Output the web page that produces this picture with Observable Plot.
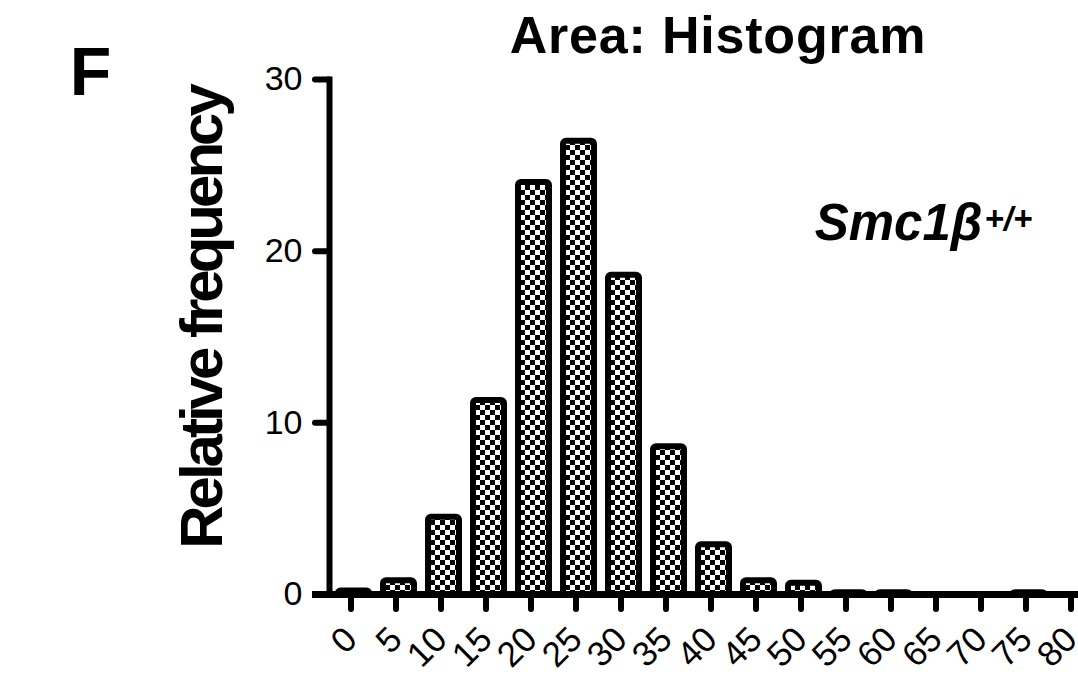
<!DOCTYPE html>
<html><head><meta charset="utf-8">
<script src="https://cdn.jsdelivr.net/npm/d3@7"></script>
<script src="https://cdn.jsdelivr.net/npm/@observablehq/plot@0.6"></script>
<style>body{margin:0;background:#fff;} svg{display:block;}</style>
</head><body><div id="chart"></div>
<script>
const bins = ["0","5","10","15","20","25","30","35","40","45","50","55","60","65","70","75","80"];
const freqs = [0.2, 0.8, 4.5, 11.3, 24.0, 26.4, 18.6, 8.6, 2.9, 0.8, 0.65, 0.1, 0.1, 0, 0, 0.1, 0];
const yTicks = [0, 10, 20, 30];
const title = "Area: Histogram";
const panelLetter = "F";
const yLabel = "Relative frequency";
const genotype = "Smc1β";
const genotypeSup = "+/+";

const data = bins.map((b, i) => ({bin: b, value: freqs[i]}));
const font = "'Liberation Sans', Arial, Helvetica, sans-serif";

const chart = Plot.plot({
  width: 1078, height: 678,
  marginTop: 79, marginBottom: 84, marginLeft: 329, marginRight: 0,
  style: {fontFamily: font, color: "#000", background: "#fff", overflow: "visible"},
  x: {type: "band", domain: bins, range: [327.3, 1099.8], paddingInner: 0.316, paddingOuter: 0.158},
  y: {domain: [0, 30]},
  marks: [
    Plot.barY(data, {x: "bin", y: "value", fill: "url(#checker)", stroke: "#000", strokeWidth: 6, rx: 3}),
    Plot.ruleY([0], {strokeWidth: 7, insetLeft: -17}),
    Plot.frame({anchor: "left", strokeWidth: 6, strokeLinecap: "square"}),
    Plot.axisY({ticks: yTicks, tickSize: 14, tickPadding: 13, fontSize: 34, strokeWidth: 6, strokeLinecap: "round", label: null}),
    Plot.axisX({tickSize: 15, tickPadding: 24, dx: -3, tickRotate: -45, fontSize: 35, strokeWidth: 6, strokeLinecap: "round", label: null}),
    Plot.text([title], {frameAnchor: "top", text: d => d, dx: 14, dy: -43.5, fontSize: 52, fontWeight: "bold", textAnchor: "middle", lineAnchor: "middle"}),
    Plot.text([panelLetter], {frameAnchor: "top-left", text: d => d, dx: -239, dy: -6, fontSize: 68, fontWeight: "bold", textAnchor: "middle", lineAnchor: "middle"}),
    Plot.text([yLabel], {frameAnchor: "left", text: d => d, dx: -127, dy: -19, rotate: -90, fontSize: 60, fontWeight: "bold", textAnchor: "middle", lineAnchor: "middle"}),
    Plot.text([genotype], {frameAnchor: "top-right", text: d => d, dx: -96, dy: 144.5, fontSize: 51, fontWeight: "bold", fontStyle: "italic", textAnchor: "end", lineAnchor: "middle"}),
    Plot.text([genotypeSup], {frameAnchor: "top-right", text: d => d, dx: -94, dy: 140, fontSize: 33, fontWeight: "bold", fontStyle: "italic", textAnchor: "start", lineAnchor: "middle"})
  ]
});

const defs = d3.select(chart).insert("defs", ":first-child");
const pat = defs.append("pattern").attr("id", "checker").attr("patternUnits", "userSpaceOnUse").attr("width", 10).attr("height", 10);
pat.append("rect").attr("width", 10).attr("height", 10).attr("fill", "#fff");
pat.append("rect").attr("width", 5).attr("height", 5).attr("fill", "#000");
pat.append("rect").attr("x", 5).attr("y", 5).attr("width", 5).attr("height", 5).attr("fill", "#000");

const spacing = new Map([[title, "0.8px"], [yLabel, "-4px"]]);
d3.select(chart).selectAll("text").each(function() {
  const s = spacing.get(this.textContent);
  if (s) d3.select(this).style("letter-spacing", s);
});

document.getElementById("chart").appendChild(chart);
</script>
</body></html>
